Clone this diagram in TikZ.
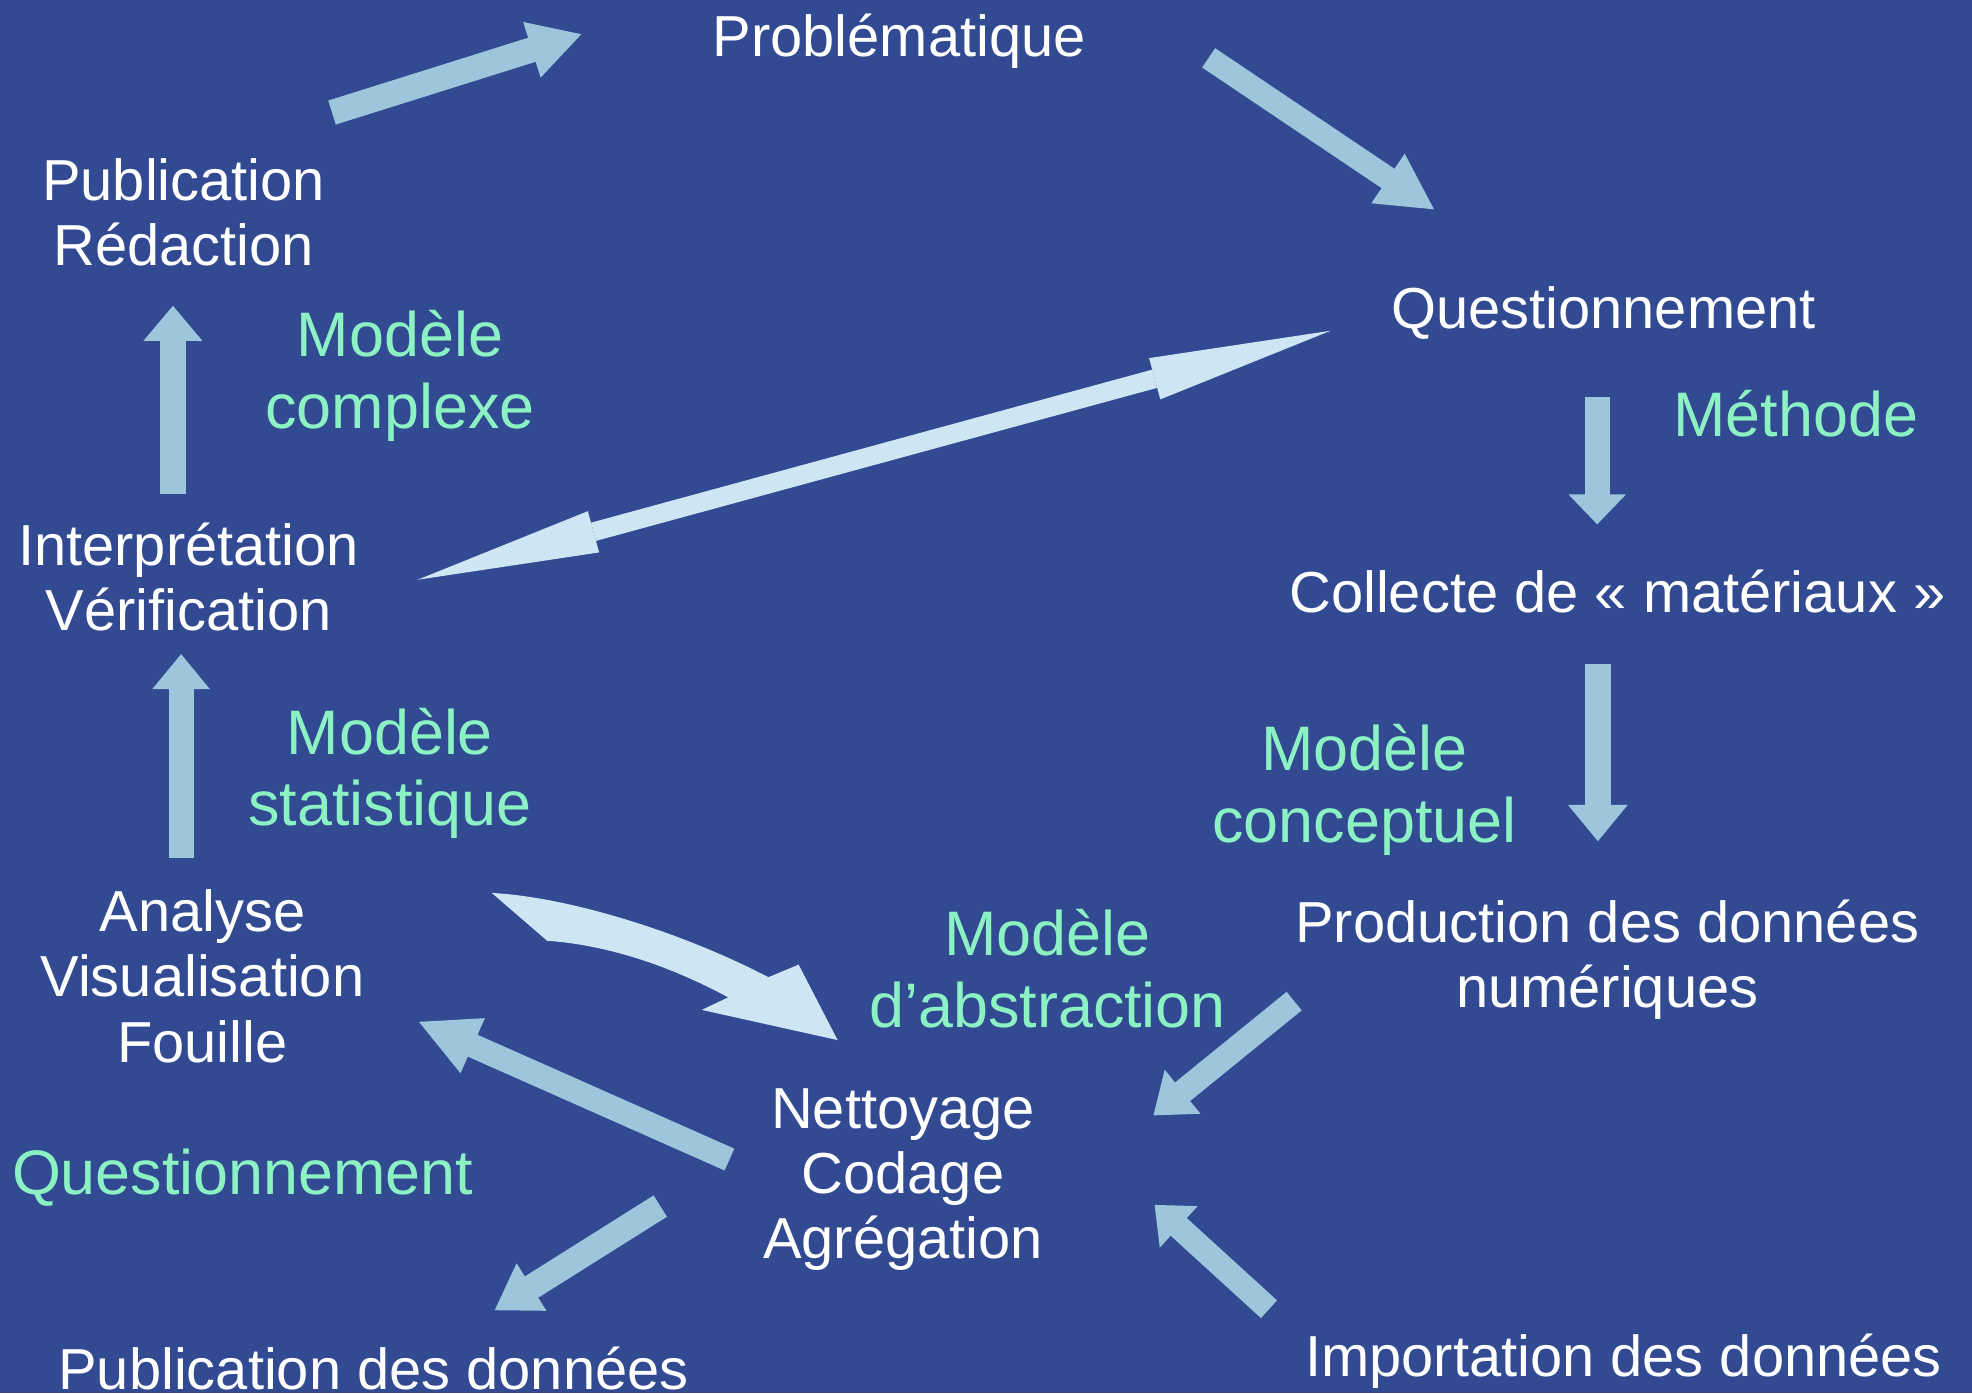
\documentclass[tikz,border=0pt]{standalone}
\usepackage{fontspec}
\setmainfont{Liberation Sans}
\usetikzlibrary{arrows.meta}
\definecolor{bg}{RGB}{50,74,146}
\definecolor{arr}{RGB}{157,198,221}
\definecolor{arrlight}{RGB}{206,229,243}
\definecolor{mint}{RGB}{140,242,196}
\begin{document}
\begin{tikzpicture}[x=0.6pt,y=-0.6pt,
  lbl/.style={text=white, font=\fontsize{27.6}{31.2}\selectfont, align=center, inner sep=0pt},
  mdl/.style={text=mint, font=\fontsize{30}{34.2}\selectfont, align=center, inner sep=0pt},
  fat/.style={draw=arr, line width=12pt},
  lightfat/.style={draw=arrlight, fill=arrlight}
]
\fill[bg] (0,0) rectangle (1568,1108);
\useasboundingbox (0,0) rectangle (1568,1108);

% text nodes
\node[lbl] (prob) at (715,33) {Problématique};
\node[lbl] (pubred) at (146,169) {Publication\\Rédaction};
\node[lbl] (quest) at (1275,249) {Questionnement};
\node[mdl] (methode) at (1428,329) {Méthode};
\node[mdl] (mcomplexe) at (318,299) {Modèle\\complexe};
\node[lbl] (interp) at (150,459) {Interprétation\\Vérification};
\node[lbl] (collecte) at (1286,470) {Collecte de «~matériaux~»};
\node[mdl] (mstat) at (310,615) {Modèle\\statistique};
\node[mdl] (mconc) at (1085,628) {Modèle\\conceptuel};
\node[lbl] (analyse) at (161,776) {Analyse\\Visualisation\\Fouille};
\node[mdl] (mabs) at (833,770) {Modèle\\d’abstraction};
\node[lbl] (prod) at (1278,763) {Production des données\\numériques};
\node[lbl] (nett) at (718,938) {Nettoyage\\Codage\\Agrégation};
\node[mdl] (questg) at (193,936) {Questionnement};
\node[lbl] (pubdon) at (297,1088) {Publication des données};
\node[lbl] (import) at (1291,1082) {Importation des données};

% arrow end points
\coordinate (a1s) at (264,89.5);   \coordinate (a1e) at (463,27);
\coordinate (a2s) at (961,46);     \coordinate (a2e) at (1141,167);
\coordinate (a3s) at (1270,315.5); \coordinate (a3e) at (1270,417);
\coordinate (a4s) at (1270.5,528); \coordinate (a4e) at (1270.5,669);
\coordinate (a5s) at (1029,796);   \coordinate (a5e) at (917,887);
\coordinate (a6s) at (1009,1041);  \coordinate (a6e) at (918,958);
\coordinate (a7s) at (580,922);    \coordinate (a7e) at (332,812);
\coordinate (a8s) at (525,959);    \coordinate (a8e) at (393,1042);
\coordinate (a10s) at (144,682);   \coordinate (a10e) at (144,520);
\coordinate (a11s) at (137.5,393); \coordinate (a11e) at (137.5,243);
\coordinate (dbl1) at (332,461);   \coordinate (dbl2) at (1058,263);

% block arrows
\draw[fat, -{Triangle[length=25.2pt, width=25.8pt]}] (a1s) -- (a1e);
\draw[fat, line width=11.1pt, -{Triangle[length=27pt, width=26.4pt]}] (a2s) -- (a2e);
\draw[fat, -{Triangle[length=14.4pt, width=26.7pt]}] (a3s) -- (a3e);
\draw[fat, line width=12.6pt, -{Triangle[length=17.4pt, width=27.3pt]}] (a4s) -- (a4e);
\draw[fat, line width=11.4pt, -{Triangle[length=18pt, width=25.8pt]}] (a5s) -- (a5e);
\draw[fat, line width=11.4pt, -{Triangle[length=15.6pt, width=25.8pt]}] (a6s) -- (a6e);
\draw[fat, line width=11.4pt, -{Triangle[length=28.8pt, width=26.4pt]}] (a7s) -- (a7e);
\draw[fat, -{Triangle[length=21pt, width=25.2pt]}] (a8s) -- (a8e);
\draw[fat, -{Triangle[length=16.8pt, width=26.4pt]}] (a10s) -- (a10e);
\draw[fat, -{Triangle[length=16.8pt, width=27pt]}] (a11s) -- (a11e);

% double arrow
\draw[draw=arrlight, line width=9pt, {Triangle[length=87pt, width=20.4pt, line width=0pt]}-{Triangle[length=87pt, width=20.4pt, line width=0pt]}] (dbl1) -- (dbl2);

% curved arrow (Analyse -> Nettoyage)
\fill[arrlight] (391,710) .. controls (450,713) and (540,740) .. (611,777)
  -- (635,767) -- (666,827) -- (558,803) -- (579,793)
  .. controls (540,772) and (490,752) .. (435,748) -- cycle;
\end{tikzpicture}
\end{document}
